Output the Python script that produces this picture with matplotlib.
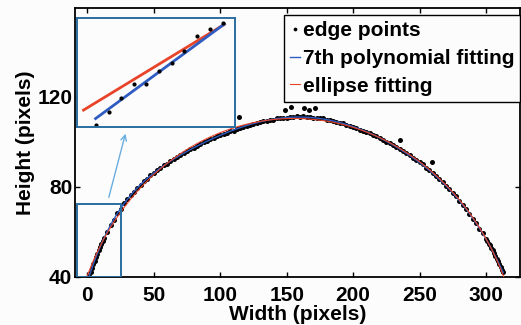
import numpy as np
import matplotlib
matplotlib.use("Agg")
import matplotlib.pyplot as plt
from matplotlib.patches import Rectangle

plt.rcParams['font.family'] = ['Liberation Sans', 'DejaVu Sans']
plt.rcParams['font.weight'] = 'bold'

# edge points (x, y in pixels)
edge_x = [1.5, 2.5, 3.5, 4.5, 5.5, 6.5, 7.5, 8.5, 9.5, 10.5, 11.5,
          12.5, 15, 17.5, 20, 22.5, 25, 27.5, 30, 32.5, 35, 37.5, 40,
          42.5, 45, 47.5, 50, 52.5, 55, 57.5, 60, 62.5, 65, 67.5, 70,
          72.5, 75, 77.5, 80, 82.5, 85, 87.5, 90, 92.5, 95, 97.5, 100,
          102.5, 105, 107.5, 110, 112.5, 115, 117.5, 120, 122.5, 125,
          127.5, 130, 132.5, 135, 137.5, 140, 142.5, 145, 147.5, 150,
          152.5, 155, 157.5, 160, 162.5, 165, 167.5, 170, 172.5, 175,
          177.5, 180, 182.5, 185, 187.5, 190, 192.5, 195, 197.5, 200,
          202.5, 205, 207.5, 210, 212.5, 215, 217.5, 220, 222.5, 225,
          227.5, 230, 232.5, 235, 237.5, 240, 242.5, 245, 247.5, 250,
          252.5, 255, 257.5, 260, 262.5, 265, 267.5, 270, 272.5, 275,
          277.5, 280, 282.5, 285, 287.5, 290, 292.5, 295, 297.5, 300,
          301, 302, 303, 304, 305, 306, 307, 308, 309, 310, 311, 312, 313]
edge_y = [40.3, 42.3, 43.9, 45.8, 47.2, 48.9, 50.2, 51.8, 53.0, 54.7, 55.8,
          57.2, 60.0, 62.9, 65.4, 68.2, 70.3, 72.6, 74.4, 76.4, 77.8, 79.6, 80.9,
          82.5, 83.6, 85.1, 86.1, 87.4, 88.3, 89.5, 90.3, 91.5, 92.2, 93.3, 94.0,
          95.1, 95.7, 96.7, 97.3, 98.3, 98.8, 99.7, 100.2, 101.1, 101.5, 102.4, 102.8,
          103.6, 103.9, 104.7, 105.0, 105.7, 106.0, 106.7, 106.9, 107.6, 107.8,
          108.4, 108.6, 109.2, 109.3, 109.8, 109.9, 110.4, 110.4, 110.8, 110.8,
          111.2, 111.1, 111.4, 111.2, 111.4, 111.1, 111.2, 110.8, 110.8, 110.4,
          110.4, 109.9, 109.8, 109.2, 109.0, 108.4, 108.2, 107.5, 107.2, 106.5,
          106.2, 105.4, 105.0, 104.2, 103.8, 102.9, 102.4, 101.5, 101.0, 100.0,
          99.4, 98.4, 97.8, 96.7, 96.0, 94.9, 94.1, 92.9, 92.1, 90.8,
          89.9, 88.5, 87.5, 86.0, 84.9, 83.3, 82.1, 80.4, 79.0, 77.2,
          75.7, 73.7, 72.0, 69.9, 68.1, 65.8, 63.8, 61.4, 59.3, 56.7,
          55.9, 54.7, 53.9, 52.6, 51.7, 50.4, 49.4, 48.0, 47.0, 45.6, 44.5, 43.0, 41.9]

# a few stray edge points above the arc
stray_x = [114, 149, 153, 163, 167, 171, 235.5, 259.5]
stray_y = [111.2, 114.2, 115.3, 115.0, 114.3, 115.2, 100.7, 90.8]

# zoomed view shown in the inset
inset_pts_x = [-4.0, -1.2, 1.5, 4.3, 6.9, 9.7, 12.4, 15.1, 17.8, 20.6, 23.4]
inset_pts_y = [40.5, 44.4, 48.4, 52.6, 52.5, 56.4, 58.7, 62.4, 66.8, 68.8, 70.7]
inset_poly_x = [-4.0, 23.7]
inset_poly_y = [42.4, 70.3]
inset_ell_x = [-6.6, 23.7]
inset_ell_y = [44.9, 70.2]

xs = np.array(edge_x)
ys = np.array(edge_y)

# 7th order polynomial fit
poly = np.polynomial.Polynomial.fit(xs, ys, 7)

# general conic fit: A u^2 + B uv + C v^2 + D u + E v = 1
mx, my, s = xs.mean(), ys.mean(), 100.0
u, v = (xs - mx) / s, (ys - my) / s
M = np.column_stack([u**2, u * v, v**2, u, v])
A, B, C, D, E = np.linalg.lstsq(M, np.ones_like(u), rcond=None)[0]

fx = np.linspace(-5, 330, 1500)
fu = (fx - mx) / s
b = B * fu + E
c = A * fu**2 + D * fu - 1
disc = b**2 - 4 * C * c
ok = disc >= 0
r1 = (-b[ok] + np.sqrt(disc[ok])) / (2 * C)
r2 = (-b[ok] - np.sqrt(disc[ok])) / (2 * C)
ell_x = fx[ok]
ell_y = np.maximum(r1, r2) * s + my

px = np.linspace(1.5, 313, 600)
py = poly(px)

box_c = '#2a6ea0'
blue = '#2f5cc0'
red = '#e8442a'
bg = '#fcfcfd'

fig = plt.figure(figsize=(5.21, 3.25), dpi=100)
fig.patch.set_facecolor(bg)
ax = fig.add_axes([0.144, 0.1486, 0.855, 0.8268])
ax.set_facecolor(bg)

ax.plot(edge_x + stray_x, edge_y + stray_y, 'ko', ms=3.6, mew=0,
        label='edge points', zorder=2)
ax.plot(px, py, color=blue, lw=1.0, label='7th polynomial fitting', zorder=3)
ax.plot(ell_x, ell_y, color=red, lw=0.8, label='ellipse fitting', zorder=4)

ax.set_xlim(-9.3, 326)
ax.set_ylim(40, 159.5)
ax.set_xticks([0, 50, 100, 150, 200, 250, 300])
ax.set_yticks([40, 80, 120])
ax.tick_params(direction='in', top=True, right=True, length=3.5, width=1,
               labelsize=15)
ax.tick_params(axis='x', pad=7)
ax.tick_params(axis='y', pad=2)
for sp in ax.spines.values():
    sp.set_linewidth(1.3)
ax.set_xlabel('Width (pixels)', fontsize=15, fontweight='bold', labelpad=0)
ax.set_ylabel('Height (pixels)', fontsize=15, fontweight='bold', labelpad=1.5)

ax.add_patch(Rectangle((-7.8, 40), 33.2, 32.3, fill=False, ec=box_c,
                       lw=1.4, zorder=5))
ax.annotate('', xy=(29.2, 104.8), xytext=(15.6, 74.1),
            arrowprops=dict(arrowstyle='->', color='#6aaee0', lw=1.0))

leg = ax.legend(loc='upper right', bbox_to_anchor=(1.0, 0.974),
                borderaxespad=0, fontsize=15, handlelength=0.45,
                handletextpad=0.15, labelspacing=0.42, borderpad=0.3,
                fancybox=False, edgecolor='k', framealpha=1,
                markerscale=0.75)
leg.get_frame().set_linewidth(1.0)
leg.get_frame().set_facecolor(bg)

ins = fig.add_axes([0.1478, 0.6102, 0.3033, 0.3335])
ins.set_facecolor(bg)
ins.plot(inset_ell_x, inset_ell_y, color=red, lw=2.0)
ins.plot(inset_poly_x, inset_poly_y, color=blue, lw=2.0)
ins.plot(inset_pts_x, inset_pts_y, 'k.', ms=6, mew=0)
ins.set_xlim(-8, 26)
ins.set_ylim(40, 72)
ins.set_xticks([])
ins.set_yticks([])
for sp in ins.spines.values():
    sp.set_color(box_c)
    sp.set_linewidth(1.4)

fig.savefig('out.png', dpi=100, facecolor=fig.get_facecolor())
